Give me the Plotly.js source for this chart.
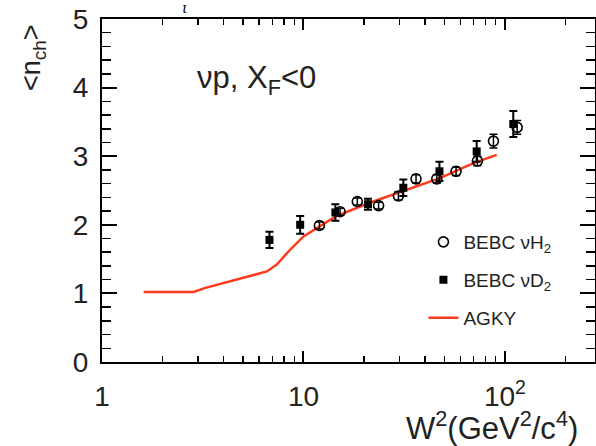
<!DOCTYPE html>
<html>
<head>
<meta charset="utf-8">
<script src="https://cdn.plot.ly/plotly-3.0.1.min.js"></script>
<style>html,body{margin:0;padding:0;background:#fff;}#chart{width:596px;height:446px;}</style>
</head>
<body>
<div id="chart"></div>
<script>
// BEBC nu H2 (open circles)
const h2W2   = [12.0, 15.2, 18.5, 23.6, 29.6, 36.2, 45.9, 57.2, 73.0, 87.7, 115];
const h2N    = [1.99, 2.19, 2.34, 2.28, 2.42, 2.67, 2.67, 2.78, 2.93, 3.22, 3.42];
const h2Err  = [0.05, 0.05, 0.05, 0.05, 0.06, 0.06, 0.06, 0.06, 0.07, 0.10, 0.10];
// BEBC nu D2 (filled squares)
const d2W2   = [6.78, 9.63, 14.4, 20.9, 31.3, 47.3, 72.4, 110];
const d2N    = [1.78, 2.00, 2.18, 2.30, 2.54, 2.78, 3.07, 3.47];
const d2Err  = [0.12, 0.13, 0.12, 0.08, 0.12, 0.14, 0.15, 0.19];
// AGKY model curve
const agkyW2 = [1.61, 2.85, 3.26, 4.0, 5.25, 6.58, 7.37, 8.6, 10.0, 12.1, 14.6, 22.2, 32.6, 47.5, 69.8, 91];
const agkyN  = [1.02, 1.02, 1.08, 1.15, 1.24, 1.32, 1.42, 1.64, 1.83, 1.98, 2.13, 2.34, 2.51, 2.68, 2.90, 3.02];
// axis ticks
const xTickVals = [1, 10, 100];
const xTickText = ['1', '10', '10<sup>2</sup>'];
const xMinorVals = [2,3,4,5,6,7,8,9,20,30,40,50,60,70,80,90,200];

const FONT = 'Liberation Sans, Arial, sans-serif';
const traces = [
  {x: agkyW2, y: agkyN, type: 'scatter', mode: 'lines', name: 'AGKY',
   line: {color: '#ff3a1e', width: 2.5}, legend: 'legend3'},
  {x: h2W2, y: h2N, type: 'scatter', mode: 'markers', name: 'BEBC νH<sub>2</sub>',
   marker: {symbol: 'circle-open', size: 10, color: '#000', line: {width: 1.6, color: '#000'}},
   error_y: {type: 'data', array: h2Err, color: '#000', thickness: 1.5, width: 4}, legend: 'legend'},
  {x: d2W2, y: d2N, type: 'scatter', mode: 'markers', name: 'BEBC νD<sub>2</sub>',
   marker: {symbol: 'square', size: 8, color: '#000'},
   error_y: {type: 'data', array: d2Err, color: '#000', thickness: 2, width: 4}, legend: 'legend2'}
];
const legBase = {xanchor: 'left', yanchor: 'middle', bgcolor: 'rgba(0,0,0,0)',
  font: {family: FONT, size: 19, color: '#222'}, itemwidth: 30};
const LX = 0.652;
const layout = {
  width: 596, height: 446,
  margin: {l: 102, r: 1, t: 19, b: 84},
  paper_bgcolor: '#fff', plot_bgcolor: '#fff',
  showlegend: true,
  legend:  Object.assign({x: LX, y: (362 - 242) / 343}, legBase),
  legend2: Object.assign({x: LX, y: (362 - 280) / 343}, legBase),
  legend3: Object.assign({x: LX, y: (362 - 318) / 343}, legBase),
  xaxis: {
    type: 'log', range: [0, 2.447],
    showline: true, linecolor: '#000', linewidth: 2, mirror: 'ticks',
    ticks: 'inside', ticklen: 11, tickwidth: 2, tickcolor: '#000',
    tickvals: xTickVals, ticktext: xTickText,
    minor: {tickvals: xMinorVals, ticks: 'inside', ticklen: 6, tickwidth: 1.5, tickcolor: '#000'},
    showgrid: false, zeroline: false,
    tickfont: {family: FONT, size: 28, color: '#222'},
    ticklabelstandoff: 8
  },
  yaxis: {
    range: [0, 5], dtick: 1,
    showline: true, linecolor: '#000', linewidth: 2, mirror: 'ticks',
    ticks: 'inside', ticklen: 15, tickwidth: 2, tickcolor: '#000',
    minor: {dtick: 0.2, ticks: 'inside', ticklen: 9, tickwidth: 1.5, tickcolor: '#000'},
    showgrid: false, zeroline: false,
    tickfont: {family: FONT, size: 28, color: '#222'},
    ticklabelstandoff: 6
  },
  annotations: [
    {text: '&lt;n<sub>ch</sub>&gt;', textangle: -90, xref: 'paper', yref: 'paper',
     x: (33 - 102) / 493, y: (362 - 58) / 343, xanchor: 'center', yanchor: 'middle',
     showarrow: false, font: {family: FONT, size: 27, color: '#222'}},
    {text: 'W<sup>2</sup>(GeV<sup>2</sup>/c<sup>4</sup>)', xref: 'paper', yref: 'paper',
     x: (404 - 102) / 493, y: (362 - 426) / 343, xanchor: 'left', yanchor: 'middle',
     showarrow: false, font: {family: FONT, size: 31, color: '#222'}},
    {text: 'νp, X<sub>F</sub>&lt;0', xref: 'paper', yref: 'paper',
     x: (195 - 102) / 493, y: (362 - 80) / 343, xanchor: 'left', yanchor: 'middle',
     showarrow: false, font: {family: FONT, size: 31, color: '#222'}},
    {text: '<i>ι</i>', xref: 'paper', yref: 'paper',
     x: (185 - 102) / 493, y: (362 - 8) / 343, xanchor: 'center', yanchor: 'middle',
     showarrow: false, font: {family: 'DejaVu Serif, serif', size: 14, color: '#000'}}
  ]
};
Plotly.newPlot('chart', traces, layout, {displayModeBar: false, staticPlot: true});
</script>
</body>
</html>
